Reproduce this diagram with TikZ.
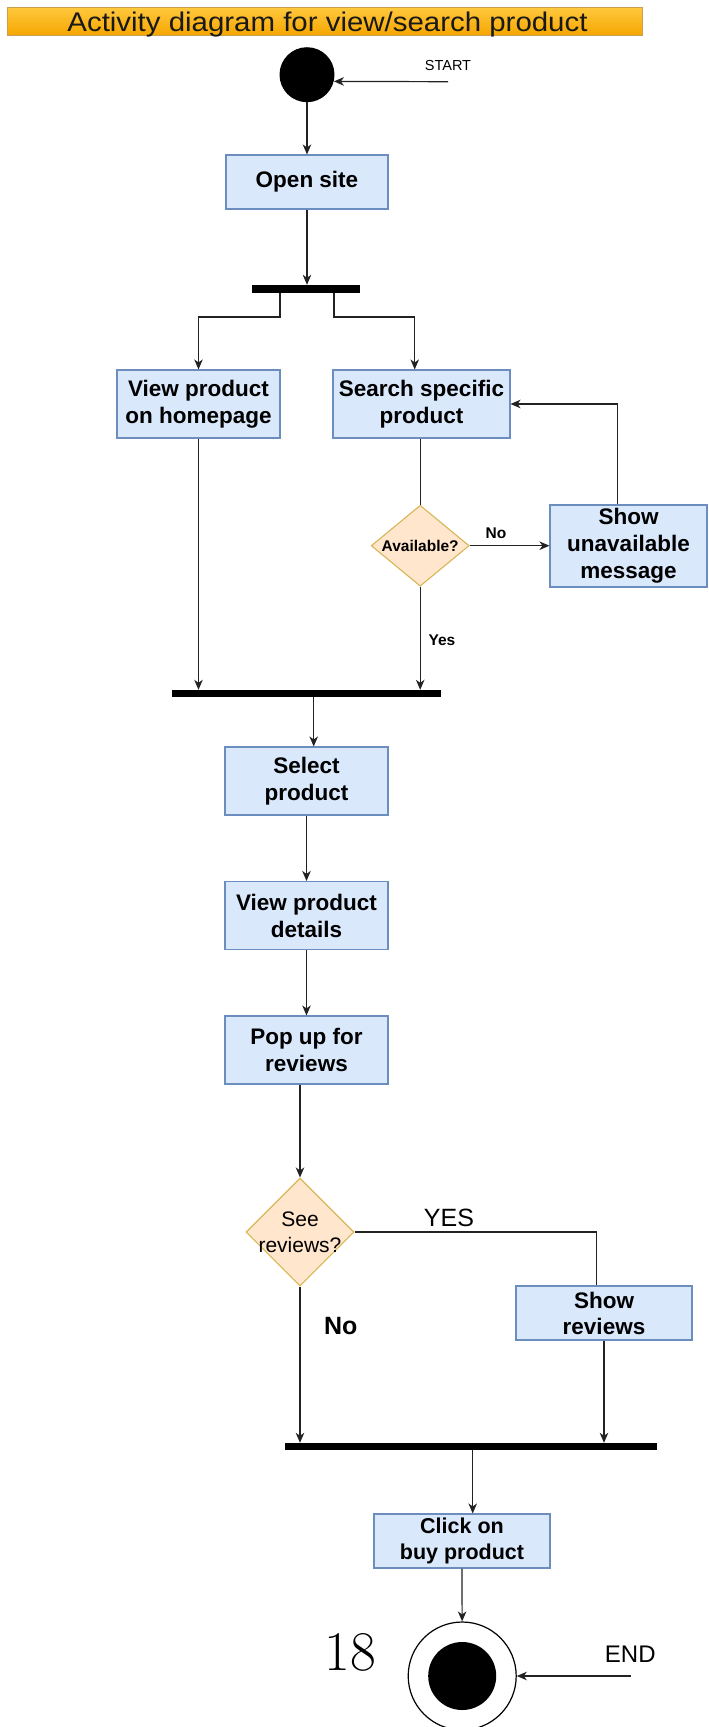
\documentclass[tikz,border=0pt]{standalone}
\usepackage{fontspec}
\usepackage{graphicx}
\newfontfamily\arialf{Liberation Sans}
\usetikzlibrary{arrows.meta,shapes.geometric}
\definecolor{boxfill}{HTML}{DAE8FC}
\definecolor{boxdraw}{HTML}{6C8EBF}
\definecolor{decfill}{HTML}{FFE6CC}
\definecolor{decdraw}{HTML}{D6B656}
\definecolor{linec}{HTML}{222222}
\definecolor{titletop}{HTML}{FFC93F}
\definecolor{titlebot}{HTML}{F6A600}
\definecolor{titledraw}{HTML}{C9A050}
\begin{document}
\begin{tikzpicture}[x=1pt,y=1pt,
  conn/.style={draw=linec, line width=1.2pt},
  arr/.style={conn, -{Stealth[length=10pt,width=8.5pt,inset=3pt]}},
  actbox/.style={rectangle, draw=boxdraw, fill=boxfill, line width=1.1pt, inner sep=0pt, align=center, font=\arialf\bfseries\fontsize{22.5}{27}\selectfont},
  decision/.style={diamond, draw=decdraw, fill=decfill, line width=1.1pt, inner sep=0pt},
  syncbar/.style={rectangle, fill=black, inner sep=0pt},
  lbl/.style={inner sep=0pt, text=black},
  smallbold/.style={lbl, font=\arialf\bfseries\fontsize{15.5}{18}\selectfont},
  titlebar/.style={rectangle, draw=titledraw, line width=0.8pt, top color=titletop, bottom color=titlebot, inner sep=0pt}
]
\useasboundingbox (0,0) rectangle (709,-1727);

% title
\node[titlebar, minimum width=635pt, minimum height=28pt] (title) at (324.5,-21) {};
\node[lbl, anchor=base, text=black!90, font=\arialf\fontsize{27}{31}\selectfont] (titletext) at (327.5,-31.5) {\scalebox{1.09}[1]{Activity diagram for view/search product}};

% start
\node[circle, fill=black, minimum size=55pt, inner sep=0pt] (start) at (307,-74.7) {};
\node[lbl, font=\arialf\fontsize{14.5}{17}\selectfont] (startlbl) at (448,-66) {START};
\coordinate (sa) at (448,-81.7);
\draw[arr] (sa) -- (start.-14.7);

% activities
\node[actbox, minimum width=162pt, minimum height=54pt] (open) at (307,-182) {Open site};
\node[syncbar, minimum width=108pt, minimum height=8pt] (fork1) at (306,-289) {};
\node[actbox, minimum width=163pt, minimum height=68pt] (viewhome) at (198.5,-404) {View product\\on homepage};
\node[actbox, minimum width=177pt, minimum height=68pt] (search) at (421.5,-404) {Search specific\\product};
\node[decision, minimum width=98pt, minimum height=81pt,
  label={[smallbold]center:Available?}] (avail) at (420.2,-545.7) {};
\node[actbox, minimum width=157pt, minimum height=82pt] (unavail) at (628.5,-546) {Show\\unavailable\\message};
\node[syncbar, minimum width=269pt, minimum height=7pt] (join1) at (306.5,-693.5) {};
\node[actbox, minimum width=163pt, minimum height=68pt] (select) at (306.5,-781) {Select\\product};
\node[actbox, minimum width=163pt, minimum height=68pt] (details) at (306.5,-915.5) {View product\\details};
\node[actbox, minimum width=163pt, minimum height=68pt] (popup) at (306.5,-1050) {Pop up for\\reviews};
\node[decision, minimum width=108pt, minimum height=108pt,
  label={[lbl, align=center, font=\arialf\fontsize{21}{25.7}\selectfont]center:See\\reviews?}] (seerev) at (300,-1232) {};
\node[actbox, minimum width=176pt, minimum height=54pt, font=\arialf\bfseries\fontsize{22.5}{26}\selectfont] (showrev) at (604,-1313) {Show\\reviews};
\node[syncbar, minimum width=372pt, minimum height=7pt] (join2) at (471,-1446.5) {};
\node[actbox, minimum width=176pt, minimum height=54pt, font=\arialf\bfseries\fontsize{21.5}{25.7}\selectfont] (click) at (462,-1541) {Click on\\buy product};

% end
\node[circle, draw=black, line width=1.2pt, fill=white, minimum size=108pt, inner sep=0pt] (endc) at (462.2,-1676) {};
\node[circle, fill=black, minimum size=68pt, inner sep=0pt] (endin) at (endc) {};
\node[lbl, font=\arialf\fontsize{24}{28}\selectfont] (endlbl) at (630.3,-1654) {END};
\coordinate (ea) at (630.7,-1676);
\draw[arr] (ea) -- (endc.east);
\node[lbl, font=\fontsize{56}{60}\selectfont] (pagenum) at (350.7,-1652) {18};

% labels
\node[smallbold] (nolbl1) at (496,-533) {No};
\node[smallbold] (yeslbl1) at (442,-640) {Yes};
\node[lbl, font=\arialf\fontsize{25}{29}\selectfont] (yeslbl2) at (449,-1217.7) {YES};
\node[lbl, font=\arialf\bfseries\fontsize{25}{29}\selectfont] (nolbl2) at (340.7,-1326) {No};

% connectors
\draw[arr] (start) -- (open);
\draw[arr] (open.south) -- (open.south |- fork1.north);
\draw[arr] ([xshift=-26pt]fork1.south) -- ++(0,-23.7) -| (viewhome.north);
\draw[arr] ([xshift=28pt]fork1.south) -- ++(0,-23.7) -| ([xshift=-6.8pt]search.north);
\draw[arr] (viewhome.south) -- (viewhome.south |- join1.north);
\draw[conn] (search.south -| avail.north) -- (avail.north);
\draw[arr] (avail.east) -- (unavail.west |- avail.east);
\draw[arr] ([xshift=-11pt]unavail.north) |- (search.east);
\draw[arr] (avail.south) -- (avail.south |- join1.north);
\draw[arr] ([xshift=7.2pt]join1.south) -- ([xshift=7.2pt]select.north);
\draw[arr] (select) -- (details);
\draw[arr] (details) -- (popup);
\draw[arr] (popup.south -| seerev.north) -- (seerev.north);
\draw[conn] (seerev.east) -| ([xshift=-7.3pt]showrev.north);
\draw[arr] (seerev.south) -- (seerev.south |- join2.north);
\draw[arr] (showrev.south) -- (showrev.south |- join2.north);
\draw[arr] ([xshift=1.7pt]join2.south) -- ([xshift=10.7pt]click.north);
\draw[arr] (click) -- (endc);
\end{tikzpicture}
\end{document}
